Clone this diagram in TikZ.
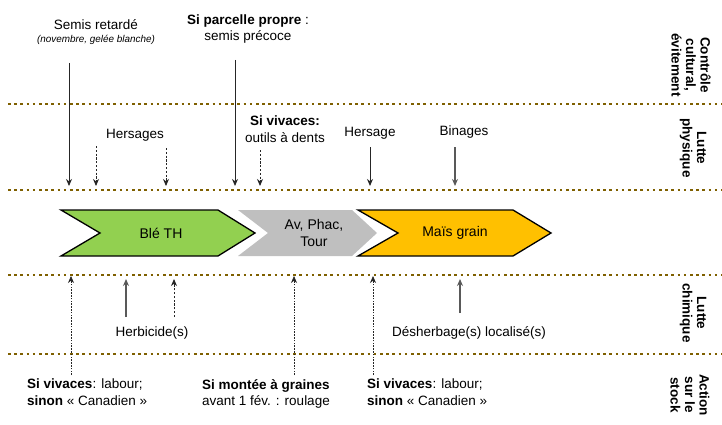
\documentclass[tikz,border=0pt]{standalone}
\usepackage{fontspec}
\setmainfont{Liberation Sans}
\usetikzlibrary{arrows.meta}
\definecolor{sepbrown}{HTML}{7F6000}
\definecolor{blegreen}{HTML}{92D050}
\definecolor{maisyel}{HTML}{FFC000}
\definecolor{rotgray}{HTML}{BFBFBF}
\definecolor{arrgray}{HTML}{595959}
\begin{document}
\begin{tikzpicture}[x=1pt,y=-1pt,
  sep/.style={sepbrown,line width=2.6pt,dash pattern=on 2.6pt off 3.6pt},
  lbl/.style={font=\fontsize{13.5}{16.5}\selectfont,inner sep=0pt,align=center},
  side/.style={font=\fontsize{13.5}{14.5}\selectfont\bfseries,rotate=-90,align=center,inner sep=0pt},
  crop/.style={font=\fontsize{14}{16.5}\selectfont,inner sep=0pt,align=center},
  solidarr/.style={-{Stealth[length=7pt,width=6pt]},line width=1pt,black!85},
  grayarr/.style={-{Stealth[length=7pt,width=6pt]},line width=1.4pt,arrgray},
  dasharr/.style={-{Stealth[length=7pt,width=6pt]},line width=0.9pt,black!85,dash pattern=on 2.2pt off 1.6pt},
  dotarr/.style={-{Stealth[length=7pt,width=6pt]},line width=0.7pt,black!85,dash pattern=on 1.6pt off 1.2pt}]
\useasboundingbox (0,0) rectangle (722,425);
% separators
\coordinate (s1a) at (8,104); \coordinate (s1b) at (722,104);
\coordinate (s2a) at (8,190); \coordinate (s2b) at (722,190);
\coordinate (s3a) at (8,275); \coordinate (s3b) at (722,275);
\coordinate (s4a) at (8,354); \coordinate (s4b) at (722,354);
\draw[sep] (s1a) -- (s1b);
\draw[sep] (s2a) -- (s2b);
\draw[sep] (s3a) -- (s3b);
\draw[sep] (s4a) -- (s4b);
% chevrons
\fill[rotgray] (238,210) -- (352,210) -- (377,233) -- (352,256) -- (238,256) -- (268,233) -- cycle;
\draw[fill=blegreen,line width=1.3pt] (61,210) -- (218,210) -- (255,233) -- (218,256) -- (61,256) -- (100,233) -- cycle;
\draw[fill=maisyel,line width=1.3pt] (358,210) -- (513,210) -- (551,233) -- (513,256) -- (358,256) -- (398,233) -- cycle;
\node[crop] (ble) at (161,233) {Blé TH};
\node[crop] (avp) at (314,233) {Av, Phac,\\Tour};
\node[crop] (mais) at (455,233) {Maïs grain};
% top band
\node[lbl] (semr) at (96,25) {Semis retardé};
\node[lbl,font=\fontsize{9.9}{12}\selectfont\itshape] (semrn) at (96,40) {(novembre, gelée blanche)};
\node[lbl] (sipp) at (248,29) {\textbf{Si parcelle propre} :\\semis précoce};
\coordinate (a1s) at (69,63); \coordinate (a1e) at (69,186);
\coordinate (a2s) at (235,60); \coordinate (a2e) at (235,186);
\draw[solidarr] (a1s) -- (a1e);
\draw[solidarr] (a2s) -- (a2e);
% physique band
\node[lbl] (hers) at (135,135) {Hersages};
\node[lbl] (sivo) at (285,129) {\textbf{Si vivaces:}\\outils à dents};
\node[lbl] (hers2) at (370,133) {Hersage};
\node[lbl] (bin) at (464,132) {Binages};
\coordinate (b1s) at (96,146); \coordinate (b1e) at (96,186);
\coordinate (b2s) at (166,148); \coordinate (b2e) at (166,186);
\coordinate (b3s) at (260,150); \coordinate (b3e) at (260,186);
\coordinate (b4s) at (370,147); \coordinate (b4e) at (370,186);
\coordinate (b5s) at (455,147); \coordinate (b5e) at (455,186);
\draw[dasharr] (b1s) -- (b1e);
\draw[dasharr] (b2s) -- (b2e);
\draw[dasharr] (b3s) -- (b3e);
\draw[solidarr] (b4s) -- (b4e);
\draw[grayarr] (b5s) -- (b5e);
% chimique band
\node[lbl] (herb) at (152,333) {Herbicide(s)};
\node[lbl] (desh) at (469,333) {Désherbage(s) localisé(s)};
\coordinate (c1s) at (71,375); \coordinate (c1e) at (71,276);
\coordinate (c2s) at (126,317); \coordinate (c2e) at (126,279);
\coordinate (c3s) at (174,317); \coordinate (c3e) at (174,279);
\coordinate (c4s) at (294,375); \coordinate (c4e) at (294,276);
\coordinate (c5s) at (373,375); \coordinate (c5e) at (373,276);
\coordinate (c6s) at (460,313); \coordinate (c6e) at (460,279);
\draw[dotarr] (c1s) -- (c1e);
\draw[grayarr] (c2s) -- (c2e);
\draw[dasharr] (c3s) -- (c3e);
\draw[dotarr] (c4s) -- (c4e);
\draw[dotarr] (c5s) -- (c5e);
\draw[grayarr] (c6s) -- (c6e);
% stock band
\node[lbl,anchor=north west,align=left] (sv1) at (27,379) {\textbf{Si vivaces}: labour;\\\textbf{sinon} « Canadien »};
\node[lbl,anchor=north west,align=left] (smg) at (202,379) {\textbf{Si montée à graines}\\avant 1 fév. : roulage};
\node[lbl,anchor=north west,align=left] (sv2) at (367,379) {\textbf{Si vivaces}: labour;\\\textbf{sinon} « Canadien »};
% side labels
\node[side] (l1) at (691,65) {Contrôle\\cultural,\\évitement};
\node[side] (l2) at (693,148) {Lutte\\physique};
\node[side] (l3) at (693,313) {Lutte\\chimique};
\node[side] (l4) at (690,395) {Action\\sur le\\stock};
\end{tikzpicture}
\end{document}
